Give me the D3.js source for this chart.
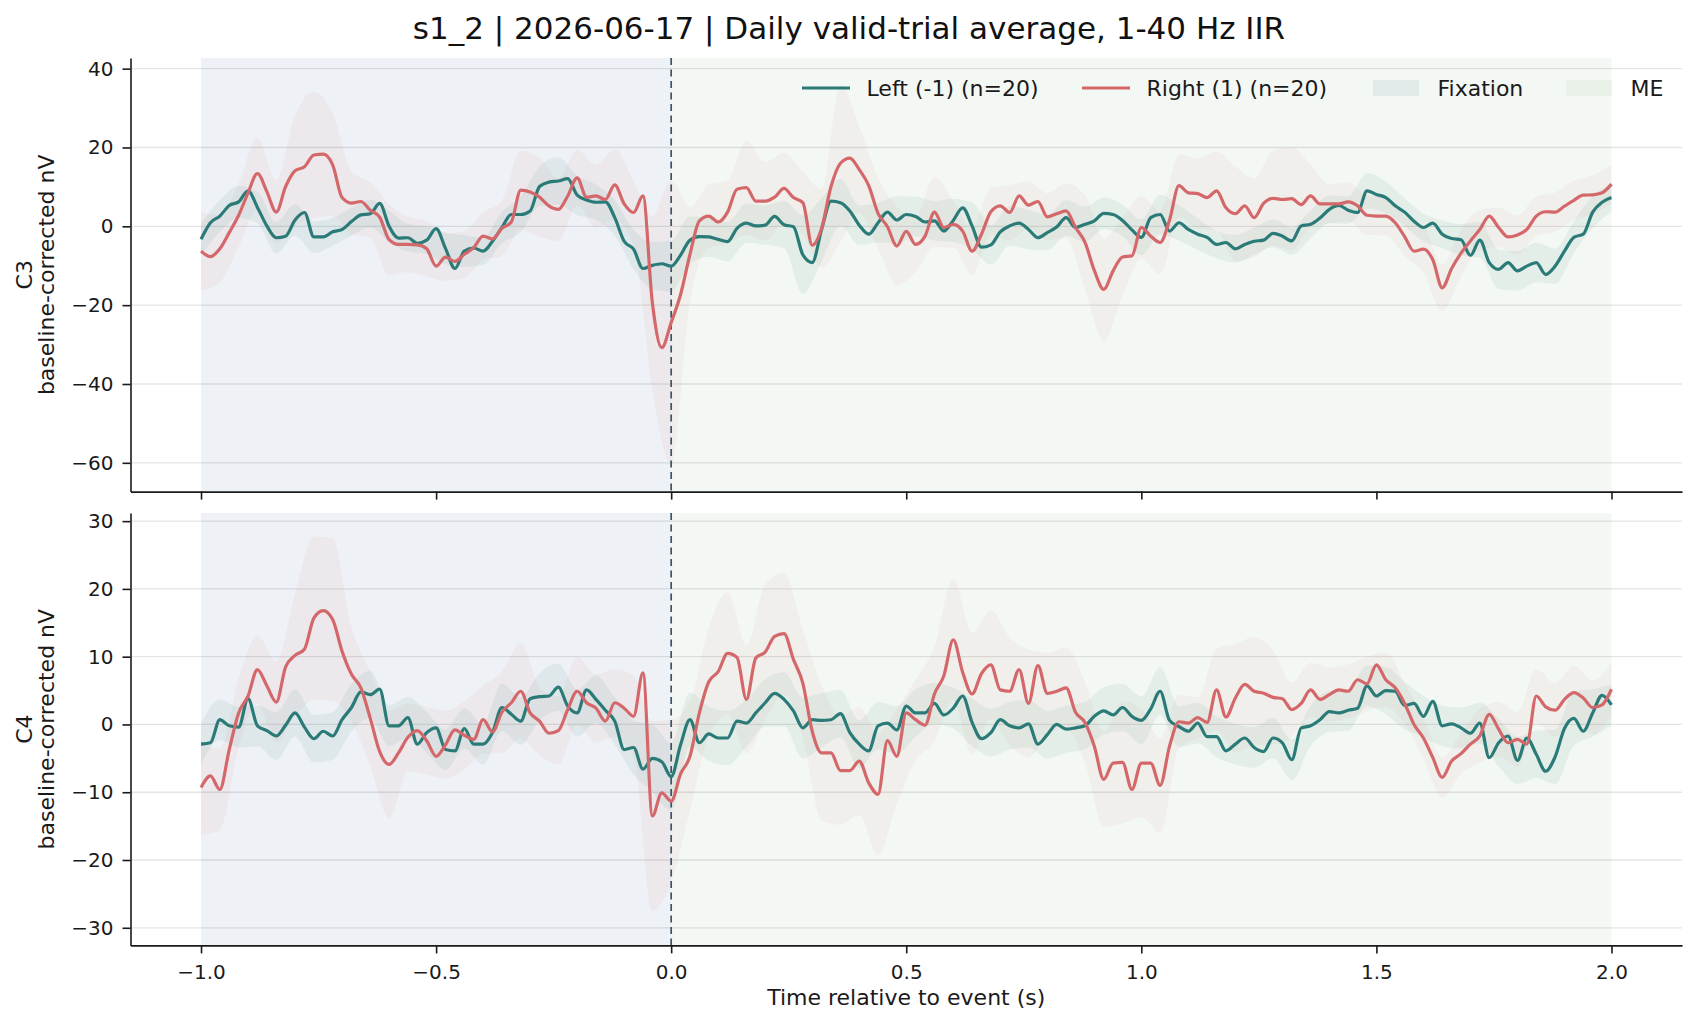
<!DOCTYPE html>
<html>
<head>
<meta charset="utf-8">
<script src="https://cdn.jsdelivr.net/npm/d3@7"></script>
<style>
    body { margin: 0; background: #fff; }
    svg { display: block; font-family: "DejaVu Sans", sans-serif; }
</style>
</head>
<body>
<div id="chart"></div>
<script>
const width = 1698;
const height = 1026;

// samples every 20 ms from -1 s to 2 s, SEM read every 40 ms
const times = d3.range(151).map(i => +(-1 + i * 0.02).toFixed(2));
const semTimes = d3.range(76).map(i => +(-1 + i * 0.04).toFixed(2));

const xTicks = [-1.0, -0.5, 0.0, 0.5, 1.0, 1.5, 2.0];
const c3Ticks = [-60, -40, -20, 0, 20, 40];
const c4Ticks = [-30, -20, -10, 0, 10, 20, 30];

const title = 's1_2 | 2026-06-17 | Daily valid-trial average, 1-40 Hz IIR';
const legendNames = ['Left (-1) (n=20)', 'Right (1) (n=20)', 'Fixation', 'ME'];

// C3, left trials
const c3Left = [
    -3.3, 0.9, 2.6, 5.3, 6.2, 9.0, 4.8, 0.1, -2.9, -2.5,
    1.6, 3.5, -2.7, -2.7, -1.4, -0.8, 1.2, 2.9, 3.2, 5.8,
    0.0, -3.0, -2.9, -4.3, -3.5, -0.6, -5.6, -10.7, -6.3, -5.5,
    -6.3, -3.8, -0.3, 3.0, 3.0, 3.9, 10.1, 11.2, 11.5, 12.1,
    7.9, 6.7, 6.1, 6.2, 2.2, -3.8, -5.8, -10.7, -9.9, -9.5,
    -10.1,
    -7.3, -3.5, -2.6, -2.7, -3.3, -3.9, -0.5, 0.8, 0.1, 0.3,
    2.5, 0.4, -0.1, -7.2, -9.2, -0.8, 6.4, 6.0, 3.9, 0.3,
    -2.0, 0.9, 3.6, 1.6, 3.0, 2.5, 1.1, 1.4, -1.2, 1.5,
    4.7, 0.1, -5.3, -4.7, -1.4, 0.1, 0.8, -0.8, -2.9, -1.6,
    -0.2, 2.2, -0.3, 0.5, 1.4, 3.3, 3.0, 1.5, -0.9, -2.8,
    2.2, 3.0, -1.2, 0.9, -0.8,
    -2.0, -2.8, -4.6, -4.1, -5.7, -4.6, -3.8, -3.5, -1.8, -2.5,
    -3.7, 0.1, 0.5, 2.1, 4.3, 5.3, 4.1, 3.5, 9.0, 8.1,
    7.3, 5.2, 3.6, 1.3, -0.3, 0.8, -2.0, -3.1, -3.4, -7.4,
    -3.5, -9.2, -10.9, -9.2, -11.3, -10.1, -9.2, -12.2, -10.1, -6.3,
    -2.8, -2.0, 3.6, 6.1, 7.3
];

// C3, right trials
const c3Right = [
    -6.3, -7.7, -5.7, -1.6, 2.8, 8.5, 13.4, 8.8, 3.6, 10.1,
    14.1, 15.1, 18.1, 18.3, 15.6, 7.3, 5.9, 6.3, 4.1, 2.3,
    -3.4, -4.6, -4.6, -4.7, -5.7, -10.1, -7.8, -8.9, -7.1, -5.4,
    -2.5, -3.2, -0.5, 1.1, 9.2, 8.7, 7.4, 5.2, 4.3, 7.7,
    12.3, 7.4, 7.7, 6.8, 10.5, 5.7, 3.5, 7.7, -19.4, -30.8,
    -24.4,
    -17.3, -7.1, 1.4, 2.6, 1.1, 3.6, 9.4, 9.8, 6.4, 6.4,
    7.4, 9.6, 7.3, 6.0, -4.8, -0.5, 10.1, 16.0, 17.3, 14.4,
    10.4, 3.3, -0.1, -5.0, -1.3, -4.6, -2.5, 3.6, -0.3, 0.5,
    -1.2, -6.3, -2.0, 3.7, 5.2, 3.5, 7.7, 5.4, 6.3, 2.4,
    3.2, 3.9, -0.3, -4.0, -11.2, -16.0, -11.3, -7.8, -7.5, -0.3,
    -2.5, -4.1, 1.6, 10.3, 8.5,
    8.3, 7.3, 9.0, 4.7, 3.2, 5.2, 2.2, 5.8, 7.1, 6.8,
    7.0, 5.5, 7.7, 5.7, 5.7, 5.7, 6.2, 5.2, 2.8, 2.6,
    2.6, 0.9, -2.6, -6.3, -5.8, -8.5, -15.6, -10.7, -6.8, -3.7,
    -0.8, 2.6, -0.3, -2.7, -2.2, -0.8, 2.6, 3.7, 3.6, 5.1,
    6.6, 7.9, 8.0, 8.5, 10.7
];

// C4, left trials
const c4Left = [
    -2.9, -2.7, 0.7, -0.2, -0.4, 3.8, -0.2, -0.9, -1.7, -0.1,
    1.7, -0.4, -2.1, -1.0, -1.7, 0.7, 2.5, 4.8, 4.4, 5.2,
    -0.2, -0.2, 1.0, -2.9, -1.2, -0.5, -3.7, -3.9, -0.6, -2.9,
    -2.9, -1.2, 2.5, 1.5, 0.5, 3.8, 4.1, 4.2, 5.5, 2.7,
    1.7, 5.1, 3.7, 2.1, 0.5, -3.7, -3.4, -6.6, -5.0, -5.5,
    -7.7,
    -3.0, 0.7, -2.7, -1.4, -2.0, -2.0, 0.5, 0.2, 1.7, 3.2,
    4.6, 3.7, 2.0, -0.5, 0.7, 0.6, 0.7, 1.6, -1.2, -2.9,
    -3.9, -0.2, 0.2, -0.8, 2.7, 1.7, 1.7, 3.1, 1.4, 2.4,
    4.2, 0.3, -2.1, -1.2, 0.7, -0.2, -0.5, 0.1, -2.9, -1.5,
    0.0, -0.7, -0.5, -0.2, 1.2, 2.0, 1.4, 2.5, 1.2, 0.6,
    2.3, 4.9, 0.6, -0.3, -1.0,
    0.2, -1.8, -1.8, -3.9, -2.9, -2.0, -3.4, -4.0, -2.0, -2.7,
    -5.2, -0.5, -0.2, 0.7, 1.9, 1.7, 2.1, 2.4, 5.7, 4.2,
    5.0, 4.9, 2.8, 3.1, 1.2, 3.4, -0.2, 0.1, -0.5, -1.3,
    0.2, -4.9, -2.7, -1.7, -5.3, -2.0, -4.4, -6.9, -4.8, -0.6,
    0.9, -1.0, 1.7, 4.3, 2.9
];

// C4, right trials
const c4Right = [
    -9.3, -7.6, -9.6, -3.7, 1.7, 4.2, 8.1, 5.7, 3.3, 8.5,
    10.2, 11.1, 15.7, 16.8, 15.5, 10.8, 7.4, 5.4, 0.9, -4.0,
    -5.9, -4.2, -1.9, -0.9, -2.4, -4.7, -3.0, -0.8, -1.6, -2.2,
    0.7, -1.1, 1.8, 3.2, 4.9, 1.7, 0.5, -1.3, -0.9, 2.2,
    4.9, 3.2, 2.4, 0.5, 3.2, 2.4, 1.2, 7.6, -13.5, -10.1,
    -11.3,
    -7.3, -4.7, 1.7, 6.3, 7.8, 10.5, 9.9, 3.7, 9.8, 10.7,
    13.0, 13.4, 9.6, 6.1, -1.0, -4.2, -4.2, -6.8, -6.8, -5.4,
    -8.6, -10.3, -2.4, -4.7, 1.7, 0.7, -0.1, 4.5, 7.2, 12.5,
    7.7, 4.5, 7.5, 8.8, 5.1, 4.9, 8.1, 3.1, 8.7, 4.6,
    4.9, 5.4, 1.8, 0.3, -3.2, -8.1, -5.7, -5.6, -9.6, -5.7,
    -5.7, -9.0, -3.2, 0.4, 0.2,
    1.0, 0.3, 5.1, 1.1, 3.9, 5.9, 4.9, 4.6, 4.0, 3.8,
    2.2, 3.1, 5.1, 3.7, 4.4, 5.1, 4.9, 6.6, 6.0, 8.8,
    6.6, 5.4, 3.1, 0.0, -2.0, -4.9, -7.8, -5.4, -4.3, -2.9,
    -1.7, 1.5, -0.7, -2.7, -2.2, -2.9, 4.2, 2.6, 2.1, 3.7,
    4.7, 3.9, 2.5, 2.9, 5.2
];

// SEM half widths (every 40 ms)
const semC3Left = [
    4, 4, 4, 4, 4, 4, 4, 3.5, 3.5, 3.5,
    4, 3.5, 3.5, 4, 4, 3.5, 4, 4.5, 5, 6,
    5, 4.5, 4.5, 5, 6,
    6.5, 6, 5, 5, 5, 5, 6, 10, 8, 6,
    5, 5, 6, 5, 5, 5.5, 6, 5, 5, 5,
    4.5, 4.5, 4.5, 4, 4, 4.5, 5, 4.5, 4, 3.5,
    3.5, 3.5, 3.5, 3.5, 3.5, 3.5, 3.5, 4.5, 4, 3.5,
    3.5, 3.5, 4, 4.5, 5, 5, 5, 4.5, 4, 4,
    3.5
];
const semC3Right = [
    10, 8.5, 8, 9, 8, 14, 16, 13, 8, 7,
    9, 7, 7, 6, 6, 6, 7, 10, 10, 8,
    7, 8, 9, 8, 22,
    36, 12, 8, 8, 12, 10, 9, 8, 10, 20,
    11, 9, 10, 7, 9, 6, 6, 6, 7, 6,
    6, 7, 12, 13, 10, 8, 8, 8, 9, 10,
    12, 10, 12, 13, 8, 5, 5, 5, 5, 5,
    6, 6, 6, 5, 5, 5, 5, 5, 5, 5,
    5
];
const semC4Left = [
    3, 3, 3, 3, 3.5, 3.5, 3.5, 3.5, 3.5, 3.5,
    3, 3, 3, 3, 3, 3, 3.5, 3.5, 3.5, 3.5,
    3.5, 3.5, 3.5, 4, 5,
    5, 4, 4, 4, 3.5, 3.5, 4, 4.5, 4, 3.5,
    3.5, 3.5, 3.5, 3.5, 3, 3, 3.5, 3.5, 3.5, 3.5,
    3.5, 3.5, 3.5, 3.5, 3.5, 3.5, 3.5, 3, 3, 3,
    3, 3, 3, 3, 3, 3, 3, 3, 3.5, 3.5,
    3, 3, 3, 3, 3.5, 3.5, 3.5, 4, 4, 3.5,
    3
];
const semC4Right = [
    7, 6, 5, 5, 6, 9, 12, 12, 7, 7,
    8, 5, 5, 5, 5, 5, 6, 7, 5, 5,
    5, 5, 5, 6, 14,
    12, 8, 8, 9, 8, 10, 9, 8, 10, 8,
    8, 9, 7, 6, 7, 9, 9, 8, 8, 8,
    6, 6, 6, 7, 9, 8, 7, 4, 3, 6,
    8, 8, 7, 4, 4, 4, 4, 4, 4, 3,
    3, 3, 3, 4, 4, 4, 4, 4, 4, 4,
    4
];

const leftColor = '#2a7b78';
const rightColor = '#d4676a';

const panels = [
    {name: 'C3', left: c3Left, right: c3Right, semLeft: semC3Left, semRight: semC3Right,
        domain: [-67.3, 42.7], ticks: c3Ticks, top: 58, bottom: 491.6, xLabels: false},
    {name: 'C4', left: c4Left, right: c4Right, semLeft: semC4Left, semRight: semC4Right,
        domain: [-32.6, 31.2], ticks: c4Ticks, top: 513, bottom: 945.4, xLabels: true}
];

const x = d3.scaleLinear().domain([-1.15, 2.15]).range([130.5, 1682]);

const svg = d3.select('#chart').append('svg')
    .attr('width', width)
    .attr('height', height);

svg.append('text')
    .attr('x', width / 2)
    .attr('y', 39)
    .attr('text-anchor', 'middle')
    .attr('font-size', 31)
    .attr('fill', '#111')
    .text(title);

panels.forEach(p => {
    const y = d3.scaleLinear().domain(p.domain).range([p.bottom, p.top]);
    const g = svg.append('g');

    // phase shading
    g.append('rect')
        .attr('x', x(-1)).attr('y', p.top)
        .attr('width', x(0) - x(-1)).attr('height', p.bottom - p.top)
        .attr('fill', 'rgba(43,80,130,0.08)');
    g.append('rect')
        .attr('x', x(0)).attr('y', p.top)
        .attr('width', x(2) - x(0)).attr('height', p.bottom - p.top)
        .attr('fill', 'rgba(110,160,120,0.08)');

    // horizontal grid
    g.selectAll('.grid')
        .data(p.ticks)
        .enter().append('line')
        .attr('x1', x.range()[0]).attr('x2', x.range()[1])
        .attr('y1', d => y(d)).attr('y2', d => y(d))
        .attr('stroke', 'rgba(0,0,0,0.1)')
        .attr('stroke-width', 1.3);

    const band = (series, sem) => d3.area()
        .x((d, i) => x(semTimes[i]))
        .y0((d, i) => y(series[i * 2] - sem[i]))
        .y1((d, i) => y(series[i * 2] + sem[i]))
        .curve(d3.curveMonotoneX)(sem);

    const line = d3.line()
        .x((d, i) => x(times[i]))
        .y(d => y(d))
        .curve(d3.curveMonotoneX);

    g.append('path').attr('d', band(p.left, p.semLeft))
        .attr('fill', leftColor).attr('fill-opacity', 0.08);
    g.append('path').attr('d', band(p.right, p.semRight))
        .attr('fill', rightColor).attr('fill-opacity', 0.06);

    // event marker
    g.append('line')
        .attr('x1', x(0)).attr('x2', x(0))
        .attr('y1', p.top).attr('y2', p.bottom)
        .attr('stroke', '#3f5366')
        .attr('stroke-width', 1.7)
        .attr('stroke-dasharray', '7,4.5');

    g.append('path').attr('d', line(p.left))
        .attr('fill', 'none').attr('stroke', leftColor)
        .attr('stroke-width', 3.2).attr('stroke-linejoin', 'round');
    g.append('path').attr('d', line(p.right))
        .attr('fill', 'none').attr('stroke', rightColor)
        .attr('stroke-width', 3.2).attr('stroke-linejoin', 'round');

    // axes
    const yAxis = g.append('g')
        .attr('transform', 'translate(' + x.range()[0] + ',0)')
        .call(d3.axisLeft(y).tickValues(p.ticks).tickFormat(d3.format('d'))
            .tickSize(8).tickSizeOuter(0).tickPadding(9));
    const xAxis = g.append('g')
        .attr('transform', 'translate(0,' + p.bottom + ')')
        .call(d3.axisBottom(x).tickValues(xTicks)
            .tickFormat(p.xLabels ? d3.format('.1f') : '')
            .tickSize(8).tickSizeOuter(0).tickPadding(11));
    [yAxis, xAxis].forEach(a => {
        a.select('.domain').attr('stroke', '#1a1a1a').attr('stroke-width', 1.6);
        a.selectAll('.tick line').attr('stroke', '#1a1a1a').attr('stroke-width', 1.6);
        a.selectAll('.tick text').attr('font-size', 20).attr('fill', '#1a1a1a')
            .attr('font-family', '"DejaVu Sans", sans-serif');
    });

    // y label
    const yl = svg.append('text')
        .attr('transform', 'translate(32,' + (p.top + p.bottom) / 2 + ') rotate(-90)')
        .attr('text-anchor', 'middle')
        .attr('font-size', 22)
        .attr('fill', '#1a1a1a');
    yl.append('tspan').attr('x', 0).attr('dy', 0).text(p.name);
    yl.append('tspan').attr('x', 0).attr('dy', 22).text('baseline-corrected nV');
});

svg.append('text')
    .attr('x', x(0.5))
    .attr('y', 1005)
    .attr('text-anchor', 'middle')
    .attr('font-size', 22)
    .attr('fill', '#1a1a1a')
    .text('Time relative to event (s)');

// legend
const legendX = [802, 1082, 1373, 1566];
const legend = svg.append('g');
legendNames.forEach((name, i) => {
    if (i < 2) {
        legend.append('line')
            .attr('x1', legendX[i]).attr('x2', legendX[i] + 48)
            .attr('y1', 88).attr('y2', 88)
            .attr('stroke', i === 0 ? leftColor : rightColor)
            .attr('stroke-width', 3.2);
    } else {
        legend.append('rect')
            .attr('x', legendX[i]).attr('y', 80)
            .attr('width', 46).attr('height', 16)
            .attr('fill', i === 2 ? 'rgba(43,80,130,0.08)' : 'rgba(110,160,120,0.08)');
    }
    legend.append('text')
        .attr('x', legendX[i] + 64.5)
        .attr('y', 96)
        .attr('font-size', 22)
        .attr('fill', '#1a1a1a')
        .text(name);
});
</script>
</body>
</html>
